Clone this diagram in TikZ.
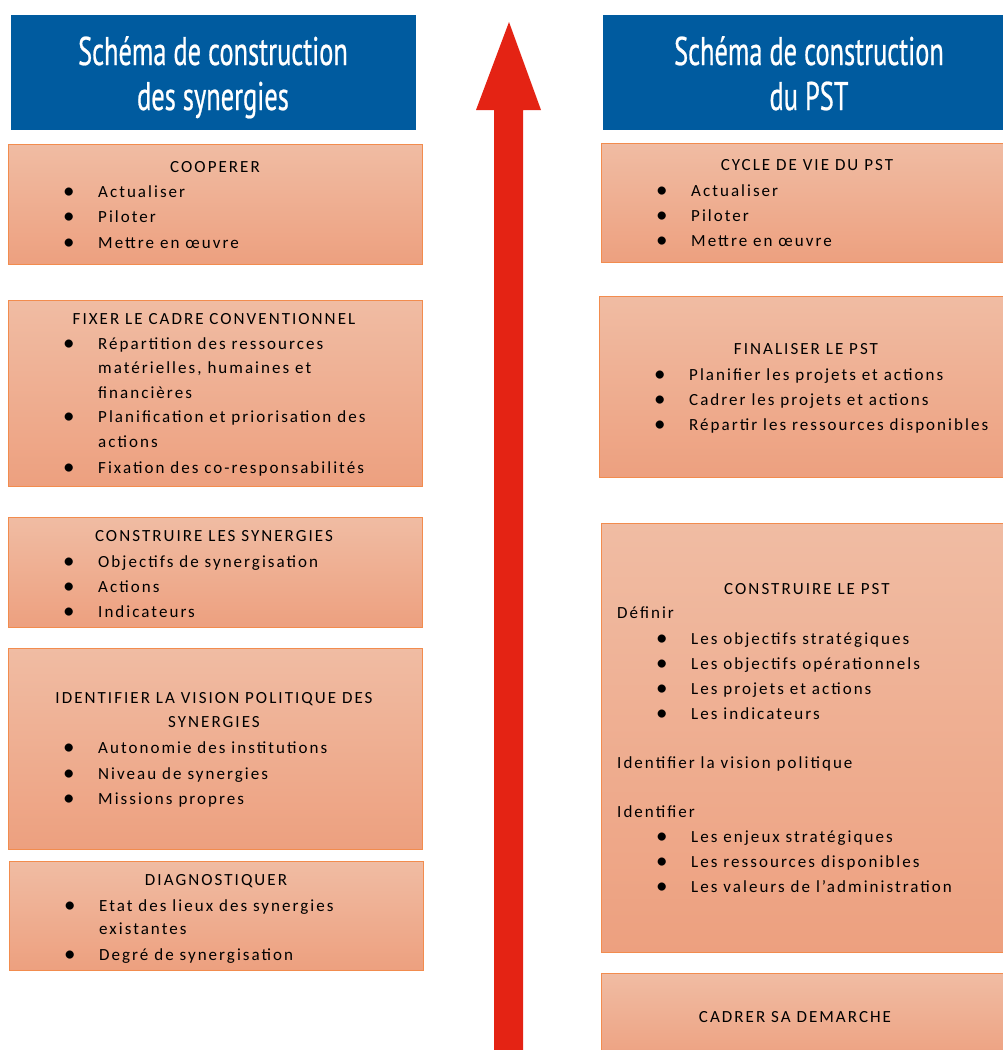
\documentclass[tikz,border=0pt]{standalone}
\usepackage{fontspec}
\setmainfont{Carlito}[LetterSpace=12]
\newfontfamily\headfont{PT Sans}[FakeStretch=0.66, FakeBold=0.6]
\usetikzlibrary{shadings}
\definecolor{headblue}{RGB}{0,91,159}
\definecolor{arrowred}{RGB}{228,35,20}
\definecolor{boxtop}{RGB}{240,188,163}
\definecolor{boxbot}{RGB}{237,160,127}
\definecolor{boxline}{RGB}{242,140,78}
\tikzset{
  header/.style={fill=headblue, draw=none, anchor=north west, inner sep=0pt},
  headtext/.style={text=white, font=\headfont\fontsize{40}{45}\selectfont, align=center, inner sep=0pt, anchor=base},
  stage/.style={draw=boxline, line width=0.8pt, top color=boxtop, bottom color=boxbot,
    anchor=north west, inner sep=0pt},
  txt/.style={font=\fontsize{17}{25}\selectfont, text=black, inner sep=0pt},
  ttl/.style={txt, anchor=base},
  ln/.style={txt, anchor=base west},
  itm/.style={ln, label={[txt, font=\fontsize{23}{25}\selectfont, anchor=base west, xshift=-35pt, yshift=-1pt]base west:\textbullet}},
}
\begin{document}
\begin{tikzpicture}[x=1pt, y=-1pt]
\useasboundingbox (0,0) rectangle (1002,1050);

% headers (text anchored on the baseline of the last line)
\node[header, minimum width=405pt, minimum height=115pt] (hl) at (11,15) {};
\node[headtext] (hlt) at (213,110) {Schéma de construction\\des synergies};
\node[header, minimum width=413pt, minimum height=115pt] (hr) at (603,15) {};
\node[headtext] (hrt) at (809,110) {Schéma de construction\\du PST};

% upward arrow
\fill[arrowred] (494,1060) -- (494,110) -- (476,110) -- (509,22) -- (541,110) -- (523,110) -- (523,1060) -- cycle;

% left column stages
\node[stage, minimum width=414pt, minimum height=120pt] (l1) at (8,144) {};
\node[ttl] (l1t) at (215,172) {COOPERER};
\foreach \y/\t [count=\i] in {197/Actualiser, 222/Piloter, 248/Mettre en œuvre}
  \node[itm] (l1-\i) at (98,\y) {\t};

\node[stage, minimum width=414pt, minimum height=186pt] (l2) at (8,300) {};
\node[ttl] (l2t) at (214,324) {FIXER LE CADRE CONVENTIONNEL};
\node[itm] (l2-1) at (98,349) {Répartition des ressources};
\node[ln] (l2-2) at (98,373) {matérielles, humaines et};
\node[ln] (l2-3) at (98,398) {financières};
\node[itm] (l2-4) at (98,422) {Planification et priorisation des};
\node[ln] (l2-5) at (98,447) {actions};
\node[itm] (l2-6) at (98,473) {Fixation des co-responsabilités};

\node[stage, minimum width=414pt, minimum height=110pt] (l3) at (8,517) {};
\node[ttl] (l3t) at (214,541) {CONSTRUIRE LES SYNERGIES};
\foreach \y/\t [count=\i] in {567/Objectifs de synergisation, 592/Actions, 617/Indicateurs}
  \node[itm] (l3-\i) at (98,\y) {\t};

\node[stage, minimum width=414pt, minimum height=201pt] (l4) at (8,648) {};
\node[ttl] (l4t) at (214,703) {IDENTIFIER LA VISION POLITIQUE DES};
\node[ttl] (l4u) at (214,727) {SYNERGIES};
\foreach \y/\t [count=\i] in {753/Autonomie des institutions, 779/Niveau de synergies, 804/Missions propres}
  \node[itm] (l4-\i) at (98,\y) {\t};

\node[stage, minimum width=414pt, minimum height=109pt] (l5) at (9,861) {};
\node[ttl] (l5t) at (216,885) {DIAGNOSTIQUER};
\node[itm] (l5-1) at (99,911) {Etat des lieux des synergies};
\node[ln] (l5-2) at (99,934) {existantes};
\node[itm] (l5-3) at (99,960) {Degré de synergisation};

% right column stages
\node[stage, minimum width=403pt, minimum height=119pt] (r1) at (601,143) {};
\node[ttl] (r1t) at (807,170) {CYCLE DE VIE DU PST};
\foreach \y/\t [count=\i] in {196/Actualiser, 221/Piloter, 246/Mettre en œuvre}
  \node[itm] (r1-\i) at (691,\y) {\t};

\node[stage, minimum width=405pt, minimum height=181pt] (r2) at (599,296) {};
\node[ttl] (r2t) at (806,354) {FINALISER LE PST};
\foreach \y/\t [count=\i] in {380/Planifier les projets et actions, 405/Cadrer les projets et actions, 430/Répartir les ressources disponibles}
  \node[itm] (r2-\i) at (689,\y) {\t};

\node[stage, minimum width=403pt, minimum height=429pt] (r3) at (601,523) {};
\node[ttl] (r3t) at (807,594) {CONSTRUIRE LE PST};
\node[ln] (r3a) at (617,618) {Définir};
\foreach \y/\t [count=\i] in {644/Les objectifs stratégiques, 669/Les objectifs opérationnels, 694/Les projets et actions, 719/Les indicateurs}
  \node[itm] (r3a-\i) at (691,\y) {\t};
\node[ln] (r3b) at (617,768) {Identifier la vision politique};
\node[ln] (r3c) at (617,817) {Identifier};
\foreach \y/\t [count=\i] in {842/Les enjeux stratégiques, 867/Les ressources disponibles, 892/Les valeurs de l’administration}
  \node[itm] (r3c-\i) at (691,\y) {\t};

\node[stage, minimum width=403pt, minimum height=90pt] (r4) at (601,973) {};
\node[ttl] (r4t) at (795,1022) {CADRER SA DEMARCHE};
\end{tikzpicture}
\end{document}
